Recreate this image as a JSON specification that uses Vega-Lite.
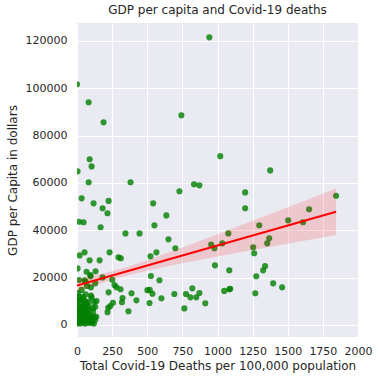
{
  "$schema": "https://vega.github.io/schema/vega-lite/v6.json",
  "autosize": "none",
  "width": 281,
  "height": 314,
  "padding": {"left": 77, "top": 23, "right": 21, "bottom": 44},
  "background": "white",
  "title": {"text": "GDP per capita and Covid-19 deaths", "fontSize": 12, "fontWeight": "normal", "font": "DejaVu Sans", "color": "#262626", "offset": 6},
  "config": {
    "view": {"fill": "#EAEAF2", "stroke": null},
    "axis": {"domain": false, "ticks": false, "gridColor": "white", "gridWidth": 1, "gridOpacity": 1, "labelFont": "DejaVu Sans", "titleFont": "DejaVu Sans", "labelFontSize": 11, "titleFontSize": 12, "titleFontWeight": "normal", "labelColor": "#262626", "titleColor": "#262626"}
  },
  "datasets": {
    "pts": [
      {"deaths": 942, "gdp": 121500}, {"deaths": 0, "gdp": 101700}, {"deaths": 83, "gdp": 94100}, {"deaths": 189, "gdp": 85600},
      {"deaths": 743, "gdp": 88600}, {"deaths": 90, "gdp": 70000}, {"deaths": 104, "gdp": 67000}, {"deaths": 4, "gdp": 64900},
      {"deaths": 1020, "gdp": 71300}, {"deaths": 1375, "gdp": 65300},
      {"deaths": 83, "gdp": 60300}, {"deaths": 381, "gdp": 60300}, {"deaths": 833, "gdp": 59400}, {"deaths": 871, "gdp": 59000},
      {"deaths": 729, "gdp": 56500}, {"deaths": 33, "gdp": 53500}, {"deaths": 118, "gdp": 51400}, {"deaths": 225, "gdp": 52400},
      {"deaths": 182, "gdp": 49300}, {"deaths": 217, "gdp": 47200}, {"deaths": 542, "gdp": 51400}, {"deaths": 636, "gdp": 46300},
      {"deaths": 551, "gdp": 42100}, {"deaths": 14, "gdp": 43600}, {"deaths": 47, "gdp": 43400}, {"deaths": 168, "gdp": 41300},
      {"deaths": 345, "gdp": 38700}, {"deaths": 445, "gdp": 38700}, {"deaths": 651, "gdp": 36200}, {"deaths": 700, "gdp": 32400},
      {"deaths": 955, "gdp": 34000}, {"deaths": 978, "gdp": 32400}, {"deaths": 982, "gdp": 25200},
      {"deaths": 19, "gdp": 29400}, {"deaths": 54, "gdp": 30700}, {"deaths": 90, "gdp": 27300}, {"deaths": 161, "gdp": 27300},
      {"deaths": 232, "gdp": 30700}, {"deaths": 295, "gdp": 28600}, {"deaths": 312, "gdp": 28200}, {"deaths": 523, "gdp": 29000},
      {"deaths": 565, "gdp": 30700}, {"deaths": 4, "gdp": 23900}, {"deaths": 68, "gdp": 22500}, {"deaths": 132, "gdp": 22700},
      {"deaths": 97, "gdp": 20600}, {"deaths": 182, "gdp": 20100}, {"deaths": 54, "gdp": 18900}, {"deaths": 251, "gdp": 19100},
      {"deaths": 267, "gdp": 16900}, {"deaths": 281, "gdp": 15900}, {"deaths": 310, "gdp": 15100}, {"deaths": 526, "gdp": 20700},
      {"deaths": 587, "gdp": 18900}, {"deaths": 225, "gdp": 13800}, {"deaths": 388, "gdp": 13400}, {"deaths": 501, "gdp": 14700},
      {"deaths": 518, "gdp": 14800}, {"deaths": 537, "gdp": 13200}, {"deaths": 693, "gdp": 13100}, {"deaths": 776, "gdp": 13100},
      {"deaths": 821, "gdp": 15500}, {"deaths": 807, "gdp": 11700}, {"deaths": 849, "gdp": 11700}, {"deaths": 871, "gdp": 13500},
      {"deaths": 913, "gdp": 9200}, {"deaths": 764, "gdp": 7000}, {"deaths": 324, "gdp": 11400}, {"deaths": 320, "gdp": 9600},
      {"deaths": 423, "gdp": 10400}, {"deaths": 516, "gdp": 9300}, {"deaths": 601, "gdp": 11300}, {"deaths": 366, "gdp": 5800},
      {"deaths": 256, "gdp": 9400}, {"deaths": 237, "gdp": 8000}, {"deaths": 217, "gdp": 5400}, {"deaths": 222, "gdp": 7300},
      {"deaths": 139, "gdp": 10100}, {"deaths": 121, "gdp": 9800}, {"deaths": 104, "gdp": 11700}, {"deaths": 80, "gdp": 9800},
      {"deaths": 114, "gdp": 7100}, {"deaths": 121, "gdp": 3300}, {"deaths": 71, "gdp": 16500}, {"deaths": 99, "gdp": 15900},
      {"deaths": 61, "gdp": 18300}, {"deaths": 14, "gdp": 19000}, {"deaths": 33, "gdp": 14800}, {"deaths": 14, "gdp": 12000},
      {"deaths": 61, "gdp": 12900}, {"deaths": 50, "gdp": 10600}, {"deaths": 83, "gdp": 8000}, {"deaths": 130, "gdp": 17600},
      {"deaths": 94, "gdp": 21100}, {"deaths": 99, "gdp": 12400}, {"deaths": 137, "gdp": 3500}, {"deaths": 130, "gdp": 7700},
      {"deaths": 1197, "gdp": 56000}, {"deaths": 1197, "gdp": 49300}, {"deaths": 1844, "gdp": 54600}, {"deaths": 1652, "gdp": 48900},
      {"deaths": 1503, "gdp": 44200}, {"deaths": 1609, "gdp": 43400}, {"deaths": 1297, "gdp": 42100}, {"deaths": 1077, "gdp": 38700},
      {"deaths": 1368, "gdp": 36600}, {"deaths": 1354, "gdp": 34500}, {"deaths": 1034, "gdp": 34500}, {"deaths": 1254, "gdp": 32800},
      {"deaths": 1261, "gdp": 30300}, {"deaths": 1084, "gdp": 23100}, {"deaths": 1339, "gdp": 24900}, {"deaths": 1325, "gdp": 23100},
      {"deaths": 1276, "gdp": 20600}, {"deaths": 1396, "gdp": 17600}, {"deaths": 1460, "gdp": 15900}, {"deaths": 1048, "gdp": 14400},
      {"deaths": 1084, "gdp": 15100}, {"deaths": 1091, "gdp": 15300}, {"deaths": 1269, "gdp": 13400},
      {"deaths": 2, "gdp": 600}, {"deaths": 5, "gdp": 1200}, {"deaths": 8, "gdp": 2100}, {"deaths": 3, "gdp": 3400},
      {"deaths": 10, "gdp": 4500}, {"deaths": 6, "gdp": 5600}, {"deaths": 12, "gdp": 7000}, {"deaths": 4, "gdp": 8200},
      {"deaths": 15, "gdp": 900}, {"deaths": 18, "gdp": 1800}, {"deaths": 20, "gdp": 2800}, {"deaths": 22, "gdp": 3900},
      {"deaths": 25, "gdp": 5200}, {"deaths": 16, "gdp": 6300}, {"deaths": 28, "gdp": 700}, {"deaths": 30, "gdp": 1500},
      {"deaths": 33, "gdp": 2500}, {"deaths": 35, "gdp": 3300}, {"deaths": 38, "gdp": 4800}, {"deaths": 40, "gdp": 6000},
      {"deaths": 27, "gdp": 7600}, {"deaths": 44, "gdp": 1100}, {"deaths": 47, "gdp": 2000}, {"deaths": 50, "gdp": 2900},
      {"deaths": 53, "gdp": 4100}, {"deaths": 42, "gdp": 5400}, {"deaths": 55, "gdp": 7200}, {"deaths": 58, "gdp": 600},
      {"deaths": 60, "gdp": 1700}, {"deaths": 63, "gdp": 2600}, {"deaths": 66, "gdp": 3600}, {"deaths": 70, "gdp": 5000},
      {"deaths": 72, "gdp": 6800}, {"deaths": 75, "gdp": 1000}, {"deaths": 78, "gdp": 2300}, {"deaths": 82, "gdp": 3100},
      {"deaths": 85, "gdp": 4400}, {"deaths": 88, "gdp": 1500}, {"deaths": 92, "gdp": 2800}, {"deaths": 95, "gdp": 900},
      {"deaths": 100, "gdp": 2000}, {"deaths": 105, "gdp": 3800}, {"deaths": 110, "gdp": 1300}, {"deaths": 115, "gdp": 5600},
      {"deaths": 68, "gdp": 8800}, {"deaths": 1, "gdp": 9800}, {"deaths": 12, "gdp": 10500}, {"deaths": 35, "gdp": 9000},
      {"deaths": 48, "gdp": 8300}, {"deaths": 23, "gdp": 11000}, {"deaths": 7, "gdp": 13500}, {"deaths": 40, "gdp": 11800},
      {"deaths": 62, "gdp": 9600}, {"deaths": 85, "gdp": 6400}, {"deaths": 0, "gdp": 1500}, {"deaths": 0, "gdp": 4000},
      {"deaths": 0, "gdp": 6800}, {"deaths": 130, "gdp": 2200}, {"deaths": 120, "gdp": 600}
    ],
    "band": [
      {"deaths": 0, "fit": 16700, "lo": 14100, "hi": 19300},
      {"deaths": 100, "fit": 18390, "lo": 16195, "hi": 20585},
      {"deaths": 200, "fit": 20080, "lo": 18170, "hi": 21990},
      {"deaths": 300, "fit": 21770, "lo": 19960, "hi": 23580},
      {"deaths": 400, "fit": 23460, "lo": 21550, "hi": 25370},
      {"deaths": 500, "fit": 25150, "lo": 22955, "hi": 27345},
      {"deaths": 750, "fit": 29375, "lo": 26040, "hi": 32710},
      {"deaths": 1000, "fit": 33600, "lo": 28880, "hi": 38320},
      {"deaths": 1250, "fit": 37825, "lo": 31630, "hi": 44020},
      {"deaths": 1500, "fit": 42050, "lo": 34350, "hi": 49750},
      {"deaths": 1844, "fit": 47860, "lo": 38060, "hi": 57660}
    ]
  },
  "encoding": {
    "x": {"field": "deaths", "type": "quantitative", "title": "Total Covid-19 Deaths per 100,000 population",
      "scale": {"domain": [0, 2000], "nice": false, "zero": false},
      "axis": {"values": [0, 250, 500, 750, 1000, 1250, 1500, 1750, 2000], "format": "d", "labelPadding": 8, "titlePadding": 4, "labelFlush": false}}
  },
  "layer": [
    {
      "data": {"name": "pts"},
      "mark": {"type": "point", "filled": true, "shape": "circle", "color": "green", "opacity": 0.8, "size": 38, "strokeWidth": 0, "clip": true},
      "encoding": {
        "y": {"field": "gdp", "type": "quantitative", "title": "GDP per Capita in dollars",
          "scale": {"domain": [-5070, 127560], "nice": false, "zero": false},
          "axis": {"values": [0, 20000, 40000, 60000, 80000, 100000, 120000], "format": "d", "labelPadding": 10, "titlePadding": 6, "labelFlush": false}}
      }
    },
    {
      "data": {"name": "band"},
      "mark": {"type": "area", "color": "red", "opacity": 0.15, "clip": true},
      "encoding": {
        "y": {"field": "lo", "type": "quantitative"},
        "y2": {"field": "hi"}
      }
    },
    {
      "data": {"name": "band"},
      "mark": {"type": "line", "color": "red", "strokeWidth": 2, "clip": true},
      "encoding": {
        "y": {"field": "fit", "type": "quantitative"}
      }
    }
  ]
}
